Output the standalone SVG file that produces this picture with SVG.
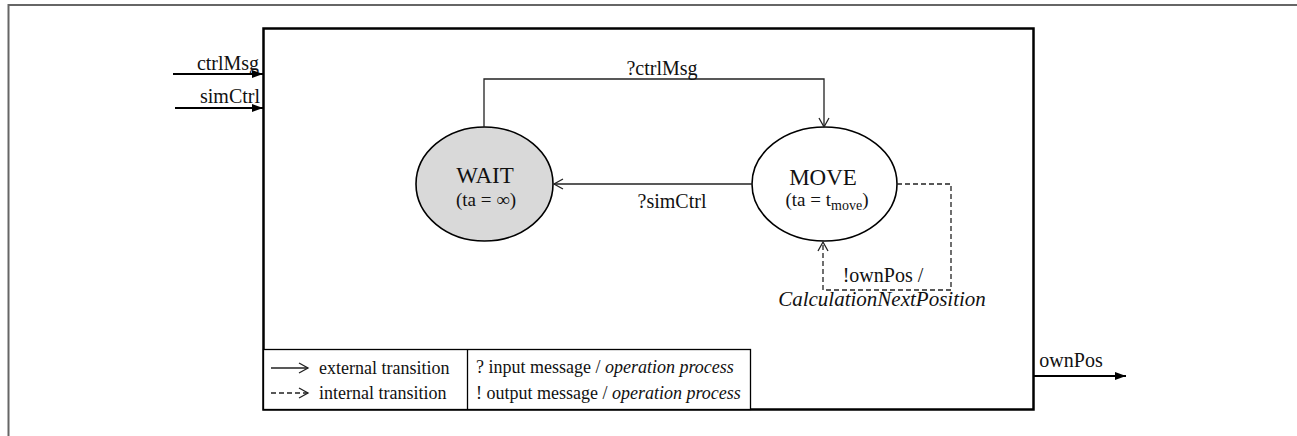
<svg xmlns="http://www.w3.org/2000/svg" width="1297" height="436" viewBox="0 0 1297 436" font-family="'Liberation Serif','Times New Roman',serif">
<style>
text{font-family:"Liberation Serif","Times New Roman",serif;fill:#111}
.lbl{font-size:20px}
.st{font-size:23px}
.sub{font-size:19px}
.lg{font-size:18px}
.it{font-style:italic}
.ln{fill:none;stroke:#222;stroke-width:1.3}
.dash{fill:none;stroke:#222;stroke-width:1.3;stroke-dasharray:5,3}
.thick{fill:none;stroke:#000;stroke-width:2.5}
</style>
<defs>
<marker id="open" markerWidth="12" markerHeight="12" refX="10" refY="6" orient="auto" markerUnits="userSpaceOnUse">
<path d="M1,1 L10,6 L1,11" fill="none" stroke="#222" stroke-width="1.3"/>
</marker>
<marker id="solid" markerWidth="12" markerHeight="10" refX="11" refY="5" orient="auto" markerUnits="userSpaceOnUse">
<path d="M0,1 L11,5 L0,9 Z" fill="#000"/>
</marker>
</defs>
<rect id="frame" x="8.5" y="5" width="1300" height="440" fill="none" stroke="#666" stroke-width="2"/>
<g id="model">
<rect x="263.5" y="28.5" width="770" height="381" class="thick"/>
</g>
<g id="ports">
<text x="228" y="70" class="lbl" text-anchor="middle">ctrlMsg</text>
<text x="230" y="103" class="lbl" text-anchor="middle">simCtrl</text>
<text x="1071" y="367" class="lbl" text-anchor="middle">ownPos</text>
</g>
<g id="wait">
<ellipse cx="484.5" cy="184" rx="68.5" ry="57" fill="#d9d9d9" stroke="#000" stroke-width="1.6"/>
<text x="485" y="183" class="st" text-anchor="middle">WAIT</text>
<text x="486" y="206" class="sub" text-anchor="middle">(ta = ∞)</text>
</g>
<g id="move">
<ellipse cx="824.5" cy="184" rx="72.5" ry="57" fill="#fff" stroke="#000" stroke-width="1.6"/>
<text x="823" y="185" class="st" text-anchor="middle">MOVE</text>
<text x="827" y="206" class="sub" text-anchor="middle">(ta = t<tspan font-size="14" dy="4">move</tspan><tspan dy="-4">)</tspan></text>
</g>
<g id="connectors">
<line x1="173" y1="74" x2="263" y2="74" stroke="#000" stroke-width="2" marker-end="url(#solid)"/>
<line x1="175" y1="108" x2="263" y2="108" stroke="#000" stroke-width="2" marker-end="url(#solid)"/>
<line x1="1033" y1="376" x2="1126" y2="376" stroke="#000" stroke-width="2" marker-end="url(#solid)"/>
<path d="M484,127 V79 H824 V127" class="ln" marker-end="url(#open)"/>
<path d="M752,184 H554" class="ln" marker-end="url(#open)"/>
<path d="M897,184 H951 V290 H823 V242" class="dash" marker-end="url(#open)"/>
<text x="662" y="75" class="lbl" text-anchor="middle">?ctrlMsg</text>
<text x="672" y="208" class="lbl" text-anchor="middle">?simCtrl</text>
<text x="883" y="282" class="lbl" text-anchor="middle">!ownPos /</text>
<text x="882" y="306" font-size="21" class="it" text-anchor="middle">CalculationNextPosition</text>
</g>
<g id="legend">
<rect x="263.5" y="349.5" width="487" height="60" fill="#fff" stroke="#000" stroke-width="1.3"/>
<line x1="467.5" y1="349.5" x2="467.5" y2="409.5" stroke="#000" stroke-width="1.3"/>
<line x1="271" y1="368" x2="308" y2="368" class="ln" marker-end="url(#open)"/>
<line x1="271" y1="393" x2="308" y2="393" class="dash" stroke-dasharray="4,3" marker-end="url(#open)"/>
<text x="319" y="374" class="lg">external transition</text>
<text x="319" y="399" class="lg">internal transition</text>
<text x="476" y="373" class="lg">? input message / <tspan class="it">operation process</tspan></text>
<text x="476" y="399" class="lg">! output message / <tspan class="it">operation process</tspan></text>
</g>
</svg>
